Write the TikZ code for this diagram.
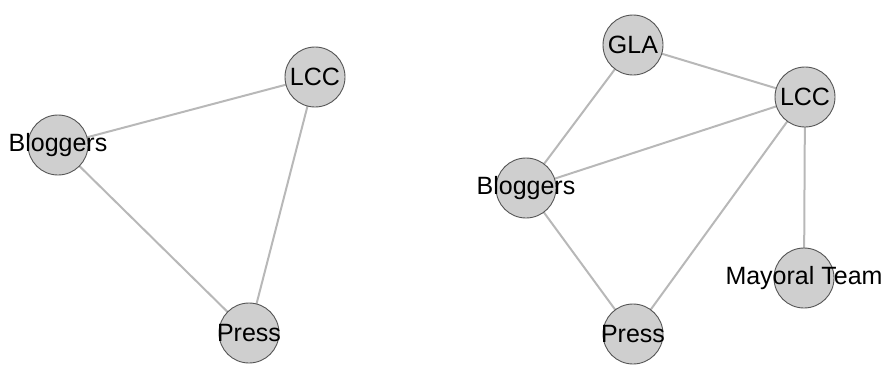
\documentclass[tikz,border=0pt]{standalone}
\usepackage{fontspec}
\setmainfont{Liberation Sans}
\usetikzlibrary{backgrounds}
\definecolor{nodefill}{HTML}{CFCFCF}
\definecolor{nodeline}{HTML}{555555}
\definecolor{edgecol}{HTML}{B8B8B8}
\tikzset{
  actor/.style={circle, draw=nodeline, line width=0.9pt, fill=nodefill, minimum size=60pt, inner sep=0pt},
  lbl/.style={font=\fontsize{25}{29}\selectfont, text=black, inner sep=0pt},
  tie/.style={draw=edgecol, line width=2pt}
}
\begin{document}
\begin{tikzpicture}[x=1pt,y=-1pt]
\useasboundingbox (0,0) rectangle (888,365);
% left network
\node[actor, label={[lbl]center:LCC}] (lcc1) at (315,77) {};
\node[actor, label={[lbl]center:Bloggers}] (blog1) at (58,145) {};
\node[actor, label={[lbl]center:Press}] (press1) at (249,333) {};
% right network
\node[actor, label={[lbl]center:GLA}] (gla2) at (633,45) {};
\node[actor, label={[lbl]center:LCC}] (lcc2) at (805,97) {};
\node[actor, label={[lbl]center:Bloggers}] (blog2) at (526,188) {};
\node[actor, label={[lbl]center:Press}] (press2) at (633,334) {};
\node[actor, label={[lbl]center:Mayoral Team}] (may2) at (804,278) {};
\begin{scope}[on background layer]
\draw[tie] (blog1.center) -- (lcc1.center);
\draw[tie] (blog1.center) -- (press1.center);
\draw[tie] (lcc1.center) -- (press1.center);
\draw[tie] (gla2.center) -- (lcc2.center);
\draw[tie] (gla2.center) -- (blog2.center);
\draw[tie] (blog2.center) -- (lcc2.center);
\draw[tie] (blog2.center) -- (press2.center);
\draw[tie] (lcc2.center) -- (press2.center);
\draw[tie] (lcc2.center) -- (may2.center);
\end{scope}
\end{tikzpicture}
\end{document}
